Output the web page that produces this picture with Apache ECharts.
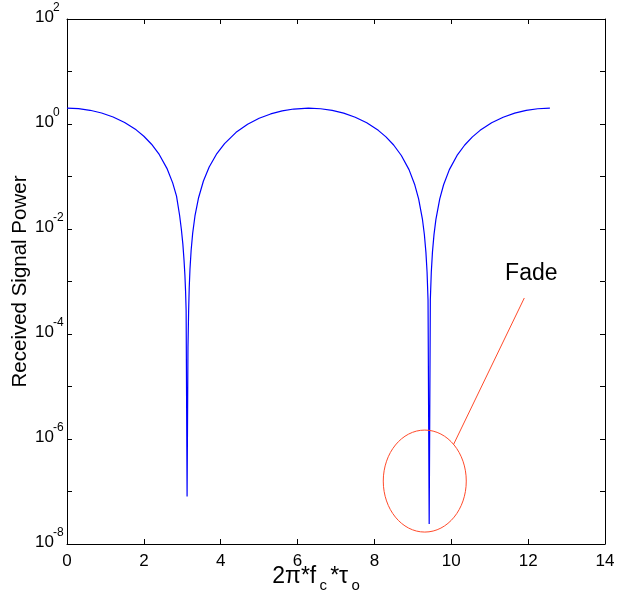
<!DOCTYPE html>
<html>
<head>
<meta charset="utf-8">
<script src="https://cdn.jsdelivr.net/npm/echarts@6/dist/echarts.min.js"></script>
<style>
  html, body { margin: 0; padding: 0; background: #ffffff; }
  #chart { width: 618px; height: 611px; }
</style>
</head>
<body>
<div id="chart"></div>
<script>
// Two-ray channel: received power versus the phase difference 2*pi*fc*tau0
const phase = [
  0, 0.3, 0.6, 0.9, 1.2, 1.5, 1.8, 2.0, 2.2, 2.4, 2.6, 2.75, 2.85, 2.93, 2.975,
  3.015, 3.045, 3.068, 3.085, 3.1, 3.125, 3.148, 3.165, 3.18, 3.2, 3.23, 3.27,
  3.33, 3.42, 3.55, 3.7, 3.9, 4.1, 4.4, 4.7, 5.0, 5.3, 5.6, 5.9, 6.283,
  6.6, 6.9, 7.2, 7.5, 7.8, 8.1, 8.3, 8.5, 8.7, 8.9, 9.05, 9.15, 9.25, 9.3,
  9.34, 9.37, 9.395, 9.425, 9.455, 9.48, 9.51, 9.55, 9.6, 9.7, 9.8, 9.95,
  10.15, 10.35, 10.55, 10.75, 11.05, 11.35, 11.65, 11.95, 12.25, 12.566
];
const power = [
  2.0, 1.955, 1.825, 1.622, 1.362, 1.071, 0.773, 0.584, 0.412, 0.263, 0.143,
  0.0757, 0.0422, 0.0183, 0.0100, 0.00516, 0.00256, 0.00133, 0.00067, 0.000278,
  8.0e-8, 5.6e-5, 0.000274, 0.000737, 0.00171, 0.0039, 0.00824, 0.0177,
  0.0385, 0.0822, 0.152, 0.274, 0.424, 0.694, 0.988, 1.284, 1.554, 1.776,
  1.928, 2.0,
  1.950, 1.816, 1.608, 1.347, 1.054, 0.757, 0.568, 0.398, 0.251, 0.135,
  0.0694, 0.0375, 0.0152, 0.00778, 0.00359, 0.00150, 0.000444, 2.4e-8,
  0.000456, 0.00152, 0.00363, 0.00783, 0.0153, 0.0376, 0.0696, 0.135,
  0.252, 0.398, 0.569, 0.757, 1.054, 1.347, 1.609, 1.816, 1.950, 2.0
];

// Decade exponents that carry a printed label on the power axis
const yLabelExponents = [-8, -6, -4, -2, 0, 2];
const yLabelBase = '10';

const xTitleParts = ['2π*f', 'c', '*τ', 'o'];
const yTitle = 'Received Signal Power';
const fadeText = 'Fade';

// Annotation anchor points in data space
const fadeRingCenter = [9.31, 1.58e-7];
const fadeLeaderEnd = [11.9, 4.85e-4];

const FONT = '"Liberation Sans", Arial, Helvetica, sans-serif';
const chart = echarts.init(document.getElementById('chart'), null, { renderer: 'canvas' });

const seriesData = phase.map((x, i) => [x, power[i]]);

const axisLine = { show: true, onZero: false, lineStyle: { color: '#000', width: 1 } };
const axisTick = { show: true, inside: true, length: 5, lineStyle: { color: '#000', width: 1 } };
const noLine = { show: false };
const noTick = { show: false };

function decade(v) {
  const e = Math.round(Math.log10(v));
  return yLabelExponents.indexOf(e) < 0 ? null : e;
}

// Shared settings for the stacked log axes (base "10", exponent, right frame)
const logAxis = {
  type: 'log', logBase: 10, min: 1e-8, max: 100, interval: 1, splitNumber: 10,
  splitLine: { show: false }
};

chart.setOption({
  animation: false,
  backgroundColor: '#ffffff',
  grid: { left: 67, right: 13, top: 19, bottom: 67, outerBoundsMode: 'none', containLabel: false },
  xAxis: [
    {
      type: 'value', min: 0, max: 14, interval: 2, position: 'bottom',
      axisLine, axisTick,
      axisLabel: { color: '#000', fontSize: 17, fontFamily: FONT, margin: 9 },
      splitLine: { show: false }
    },
    {
      type: 'value', min: 0, max: 14, interval: 2, position: 'top',
      axisLine, axisTick,
      axisLabel: { show: false },
      splitLine: { show: false }
    }
  ],
  yAxis: [
    Object.assign({}, logAxis, {
      position: 'left', axisLine, axisTick,
      axisLabel: {
        margin: 32, align: 'left',
        formatter: v => (decade(v) === null ? '' : '{a|' + yLabelBase + '}\n{g| }'),
        rich: {
          a: { fontSize: 17, fontFamily: FONT, color: '#000', lineHeight: 17 },
          g: { fontSize: 4, lineHeight: 4 }
        }
      }
    }),
    Object.assign({}, logAxis, {
      position: 'left', axisLine: noLine, axisTick: noTick,
      axisLabel: {
        margin: 14, align: 'left',
        formatter: v => { const e = decade(v); return e === null ? '' : '{e|' + e + '}\n{g| }'; },
        rich: {
          e: { fontSize: 12, fontFamily: FONT, color: '#000', lineHeight: 12 },
          g: { fontSize: 4, lineHeight: 22 }
        }
      }
    }),
    Object.assign({}, logAxis, {
      position: 'right', axisLine, axisTick,
      axisLabel: { show: false }
    })
  ],
  series: [
    {
      type: 'line',
      xAxisIndex: 0,
      yAxisIndex: 0,
      data: seriesData,
      showSymbol: false,
      symbol: 'none',
      smooth: false,
      lineStyle: { color: '#0000ff', width: 1.2 },
      z: 3
    }
  ]
});

// Annotation: ring around the deep fade, a leader line and its caption
const c = chart.convertToPixel({ gridIndex: 0 }, fadeRingCenter);
const end = chart.convertToPixel({ gridIndex: 0 }, fadeLeaderEnd);
const rx = 41.5, ry = 51;
const ang = 46 * Math.PI / 180;
const start = [c[0] + rx * Math.cos(ang), c[1] - ry * Math.sin(ang)];
const plotMidX = (chart.convertToPixel({ xAxisIndex: 0 }, 0) + chart.convertToPixel({ xAxisIndex: 0 }, 14)) / 2;
const plotMidY = chart.convertToPixel({ yAxisIndex: 0 }, 1e-3);

const n = { fontSize: 23, fontFamily: FONT, fill: '#000', lineHeight: 28, verticalAlign: 'top', padding: [0, 1.6, 0, 1.6] };
const sub = { fontSize: 15, fontFamily: FONT, fill: '#000', lineHeight: 13, verticalAlign: 'bottom', padding: [0, 1.6, 0, 1.6] };

chart.setOption({
  graphic: [
    {
      type: 'ellipse',
      shape: { cx: c[0], cy: c[1], rx: rx, ry: ry },
      style: { fill: 'none', stroke: '#ff4a2a', lineWidth: 1 },
      z: 10
    },
    {
      type: 'line',
      shape: { x1: start[0], y1: start[1], x2: end[0], y2: end[1] },
      style: { stroke: '#ff4a2a', lineWidth: 1 },
      z: 10
    },
    {
      type: 'text',
      x: end[0] + 7, y: end[1] - 24,
      style: {
        text: fadeText, fill: '#000', font: '23px ' + FONT,
        textAlign: 'center', textVerticalAlign: 'middle'
      },
      z: 10
    },
    {
      type: 'text',
      x: plotMidX - 20, y: 579,
      style: {
        text: '{n|' + xTitleParts[0] + '}{sub|' + xTitleParts[1] + '}{n|' + xTitleParts[2] + '}{sub|' + xTitleParts[3] + '}',
        textAlign: 'center', textVerticalAlign: 'middle',
        rich: { n, sub }
      },
      z: 10
    },
    {
      type: 'text',
      x: 20, y: plotMidY,
      rotation: Math.PI / 2,
      style: {
        text: yTitle, fill: '#000', font: '20.5px ' + FONT,
        textAlign: 'center', textVerticalAlign: 'middle'
      },
      z: 10
    }
  ]
});
</script>
</body>
</html>
